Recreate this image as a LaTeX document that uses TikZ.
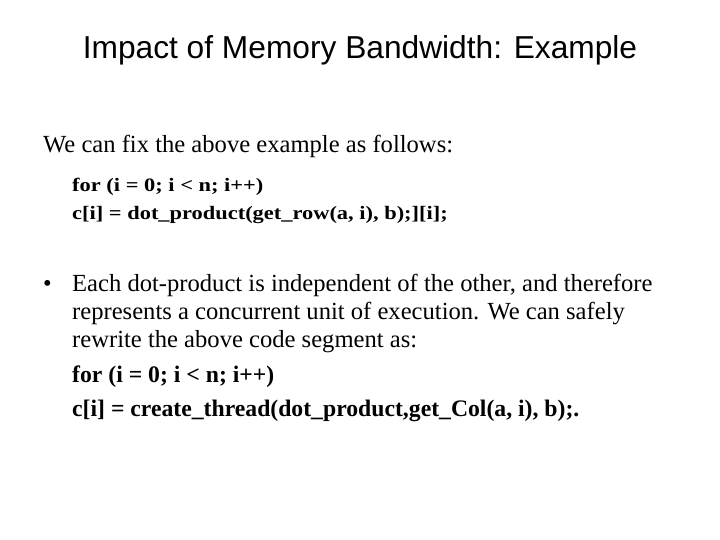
\documentclass[tikz,border=0pt]{standalone}
\usepackage{fontspec}
\setmainfont{Liberation Serif}
\newfontfamily\arialf{Liberation Sans}
\begin{document}
\begin{tikzpicture}[x=1pt,y=-1pt,
  txt/.style={anchor=base west,inner sep=0pt,font=\fontsize{24.6}{28}\selectfont},
  code/.style={anchor=base west,inner sep=0pt,xscale=1.18,transform shape,font=\bfseries\fontsize{19}{22}\selectfont},
  codeb/.style={anchor=base west,inner sep=0pt,font=\bfseries\fontsize{23.7}{27}\selectfont}]
\useasboundingbox (0,0) rectangle (720,540);
\node[anchor=base,inner sep=0pt,font=\arialf\fontsize{31.7}{36}\selectfont] (title) at (360,59) {Impact of Memory Bandwidth: Example};
\node[txt] (l1) at (43,153) {We can fix the above example as follows:};
\node[code] (c1) at (72,192) {for (i = 0; i < n; i++)};
\node[code] (c2) at (72,220) {c[i] = dot\_product(get\_row(a, i), b);][i];};
\node[txt] (bul) at (43,291) {•};
\node[txt] (b1) at (72,291) {Each dot-product is independent of the other, and therefore};
\node[txt] (b2) at (72,319) {represents a concurrent unit of execution. We can safely};
\node[txt] (b3) at (72,347) {rewrite the above code segment as:};
\node[codeb] (d1) at (72,382) {for (i = 0; i < n; i++)};
\node[codeb] (d2) at (72,416) {c[i] = create\_thread(dot\_product,get\_Col(a, i), b);.};
\end{tikzpicture}
\end{document}
